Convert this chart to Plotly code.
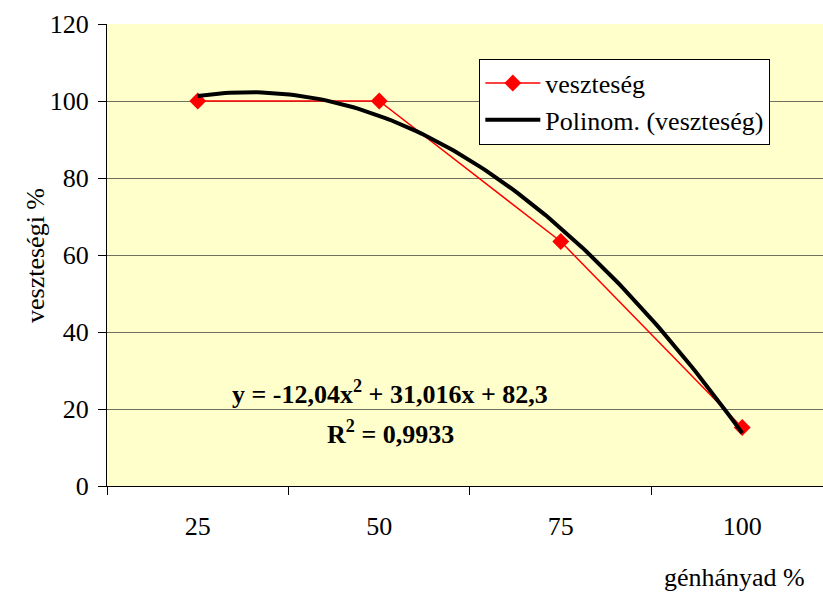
import numpy as np
import plotly.graph_objects as go

# ---- data ----
categories = ["25", "50", "75", "100"]
veszteseg = [100, 100, 63.5, 15.2]
# trendline coefficients as printed on the chart (x = category index 1..4)
poly_coef = [-12.04, 31.016, 82.3]
y_ticks = [0, 20, 40, 60, 80, 100, 120]

FONT = "Liberation Serif, Times New Roman, serif"
cat_idx = np.arange(len(categories))            # 0..3 plot positions
t = np.linspace(1, len(categories), 120)        # fit-domain x
trend_y = np.polyval(poly_coef, t)

fig = go.Figure()
fig.add_trace(go.Scatter(
    x=cat_idx, y=veszteseg, mode="lines+markers", name="veszteség",
    line=dict(color="#FF0000", width=1.5),
    marker=dict(symbol="diamond", size=13, color="#FF0000"),
))
fig.add_trace(go.Scatter(
    x=t - 1, y=trend_y, mode="lines", name="Polinom. (veszteség)",
    line=dict(color="#000000", width=4),
))

fig.update_layout(
    width=823, height=594,
    margin=dict(l=107, r=0, t=24, b=108),
    paper_bgcolor="white", plot_bgcolor="#FFFFCC",
    font=dict(family=FONT, size=26, color="black"),
    showlegend=True,
    legend=dict(
        x=0.52, y=0.925, xanchor="left", yanchor="top",
        bgcolor="white", bordercolor="black", borderwidth=1,
        font=dict(family=FONT, size=26), itemwidth=55,
        tracegroupgap=2,
    ),
    xaxis=dict(
        range=[-0.5, 3.445], tickmode="array", tickvals=list(cat_idx),
        ticktext=categories, ticks="", showgrid=False, zeroline=False,
        showline=True, linecolor="black", linewidth=1,
        ticklabelstandoff=17,
        tickfont=dict(family=FONT, size=26),
        minor=dict(tick0=-0.5, dtick=1, ticks="outside", ticklen=8,
                   tickcolor="black", showgrid=False),
    ),
    yaxis=dict(
        range=[0, 120], tickmode="array", tickvals=y_ticks,
        ticks="outside", ticklen=8, tickcolor="black",
        showgrid=True, gridcolor="#707060", gridwidth=1, zeroline=False,
        showline=True, linecolor="black", linewidth=1,
        ticklabelstandoff=4,
        tickfont=dict(family=FONT, size=26),
    ),
    annotations=[
        dict(text="<b>y = -12,04x<sup>2</sup> + 31,016x + 82,3</b>", x=1.06, y=24.4,
             xref="x", yref="y", showarrow=False,
             font=dict(family=FONT, size=26, color="black")),
        dict(text="<b>R<sup>2</sup> = 0,9933</b>", x=1.06, y=14.0,
             xref="x", yref="y", showarrow=False,
             font=dict(family=FONT, size=26, color="black")),
        dict(text="veszteségi %", x=-0.1006, y=0.5, xref="paper", yref="paper",
             textangle=-90, showarrow=False, xanchor="center", yanchor="middle",
             font=dict(family=FONT, size=26)),
        dict(text="génhányad %", x=0.978, y=-0.199, xref="paper", yref="paper",
             showarrow=False, xanchor="right", yanchor="middle",
             font=dict(family=FONT, size=26)),
    ],
)

fig.write_html("out.html")
